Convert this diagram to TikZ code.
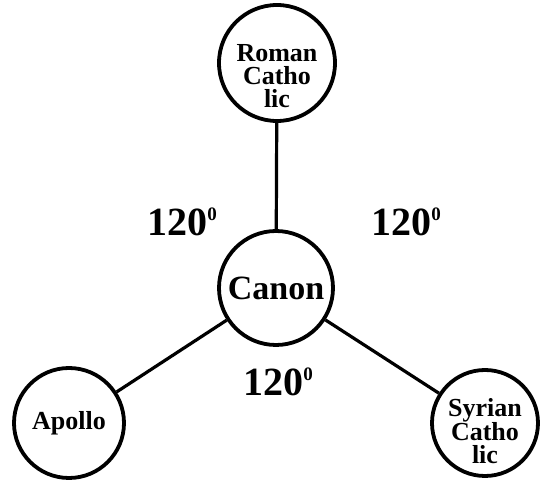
\documentclass[tikz,border=0pt]{standalone}
\usepackage{fontspec}
\setmainfont{Liberation Serif}
\newcommand{\degsup}{\raisebox{15pt}{\fontsize{19}{19}\selectfont 0}}
\begin{document}
\begin{tikzpicture}[x=1pt,y=1pt,
  ring/.style={draw=black,line width=3.8pt,circle,inner sep=0pt,fill=white},
  name text/.style={font=\bfseries\fontsize{26}{23}\selectfont,align=center,inner sep=0pt},
  angle text/.style={font=\bfseries\fontsize{40}{40}\selectfont,inner sep=0pt},
  link/.style={line width=3.2pt}]
\useasboundingbox (0,0) rectangle (542,480);
\fill[white] (0,0) rectangle (542,480);
\node[ring,minimum size=116pt] (roman) at (277,417) {};
\node[ring,minimum size=114pt] (canon) at (276,192) {};
\node[ring,minimum size=110pt] (apollo) at (69,57) {};
\node[ring,minimum size=106pt] (syrian) at (485,57) {};
\draw[link] (roman) -- (canon);
\draw[link] (canon) -- (apollo);
\draw[link] (canon) -- (syrian);
\node[name text] (romanT) at (277,404) {Roman\\Catho\\lic};
\node[font=\bfseries\fontsize{34}{34}\selectfont,inner sep=0pt] (canonT) at (276,192) {Canon};
\node[name text] (apolloT) at (69,57) {Apollo};
\node[name text] (syrianT) at (485,49) {Syrian\\Catho\\lic};
\node[angle text] (a1) at (182,258) {120\degsup};
\node[angle text] (a2) at (406,258) {120\degsup};
\node[angle text] (a3) at (278,98) {120\degsup};
\end{tikzpicture}
\end{document}
